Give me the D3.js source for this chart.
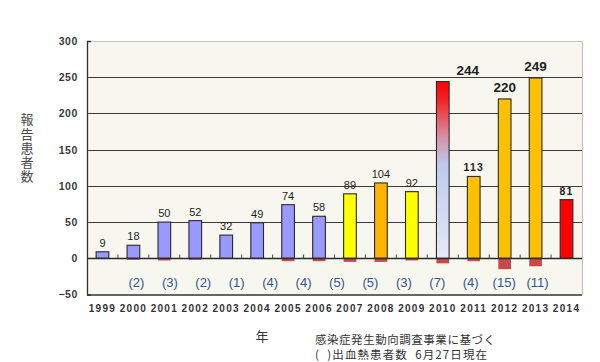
<!DOCTYPE html>
<html><head><meta charset="utf-8">
<script src="https://cdn.jsdelivr.net/npm/d3@7"></script>
<style>
html,body{margin:0;padding:0;background:#fff;}
svg{display:block;}
</style></head>
<body>
<svg id="chart" width="600" height="362"></svg>
<script>
// ---- data ----
const years = [1999,2000,2001,2002,2003,2004,2005,2006,2007,2008,2009,2010,2011,2012,2013,2014];
const reported = [9,18,50,52,32,49,74,58,89,104,92,244,113,220,249,81];
const colorGroup = ["blue","blue","blue","blue","blue","blue","blue","blue","yellow","orange","yellow","gradient","orange2","orange2","orange2","red"];
const labelStyle = ["n","n","n","n","n","n","n","n","n","n","n","big","bold","big","big","bold"];
const hemoYears = [2000,2001,2002,2003,2005,2006,2007,2008,2009,2010,2011,2012,2013];
const hemoValues = [2,3,2,1,4,4,5,5,3,7,4,15,11];
const yTicks = [-50,0,50,100,150,200,250,300];
const yTitle = "報告患者数";
const xTitle = "年";
const note1 = "感染症発生動向調査事業に基づく";
const note2 = "(\u00a0\u00a0)出血熱患者数\u00a0\u00a06月27日現在";

// ---- layout ----
const svg = d3.select("#chart");
const L = 87, R = 582, T = 41, B = 294.5;
const x = d3.scaleBand().domain(years).range([L, R]).paddingInner(0.59).paddingOuter(0.295);
const y = d3.scaleLinear().domain([-50, 300]).range([B, T]);
const step = x.step();
const bw = x.bandwidth();

const fills = {blue:"#9999ff", yellow:"#ffff00", orange:"#ffb400", orange2:"#ffc000", red:"#ff0000", gradient:"url(#g2010)"};

const defs = svg.append("defs");
const g = defs.append("linearGradient").attr("id","g2010").attr("x1",0).attr("y1",0).attr("x2",0).attr("y2",1);
[[0,"#ff0000"],[0.12,"#f22a2a"],[0.3,"#d98aa0"],[0.47,"#bccaee"],[1,"#e6eaf7"]].forEach(s=>{
  g.append("stop").attr("offset",s[0]).attr("stop-color",s[1]);
});

// plot background
svg.append("rect").attr("x",L).attr("y",T).attr("width",R-L).attr("height",B-T).attr("fill","#f7f7ef");
// top/right light borders
svg.append("path").attr("d",`M${L},${T+0.5}H${R+0.5}V${B}`).attr("fill","none").attr("stroke","#c4c4c0").attr("stroke-width",1.2);

// gridlines
svg.append("g").selectAll("line").data(yTicks.filter(t=>t>0 && t<300)).join("line")
  .attr("x1",L).attr("x2",R).attr("y1",d=>Math.round(y(d))+0.5).attr("y2",d=>Math.round(y(d))+0.5)
  .attr("stroke","#3a3a3a").attr("stroke-width",1);

// hemorrhagic red bars (below zero)
const hemo = hemoYears.map((yr,i)=>({yr, v:hemoValues[i]}));
svg.append("g").selectAll("rect").data(hemo).join("rect")
  .attr("x",d=>x(d.yr)).attr("width",bw)
  .attr("y",y(0)).attr("height",d=>y(-d.v)-y(0))
  .attr("fill","#c94848");

// main bars
const data = years.map((yr,i)=>({yr, v:reported[i], c:colorGroup[i], s:labelStyle[i]}));
svg.append("g").selectAll("rect").data(data).join("rect")
  .attr("x",d=>x(d.yr)).attr("width",bw)
  .attr("y",d=>y(d.v)).attr("height",d=>y(0)-y(d.v))
  .attr("fill",d=>fills[d.c]).attr("stroke","#2a2a2a").attr("stroke-width",1.1);

// zero line + small ticks between bars
const y0 = Math.round(y(0))+0.5;
svg.append("line").attr("x1",L).attr("x2",R).attr("y1",y0).attr("y2",y0).attr("stroke","#2a2a2a").attr("stroke-width",1.3);
svg.append("g").selectAll("line").data(years.slice(1)).join("line")
  .attr("x1",d=>x(d)-(step-bw)/2).attr("x2",d=>x(d)-(step-bw)/2)
  .attr("y1",y0).attr("y2",y0-4).attr("stroke","#444").attr("stroke-width",1);

// left + bottom axis lines
const yAxis = d3.axisLeft(y).tickValues(yTicks).tickSize(0).tickSizeOuter(-4).tickPadding(9);
const ya = svg.append("g").attr("transform",`translate(${L},0)`).call(yAxis);
ya.select(".domain").attr("stroke","#333").attr("stroke-width",1.3);
ya.selectAll("text").attr("font-family","Liberation Sans, Arial, sans-serif").attr("font-size",10.5)
  .attr("font-weight","bold").attr("fill","#3a3a3a").attr("letter-spacing",0.6);
svg.append("line").attr("x1",L).attr("x2",R).attr("y1",B+0.5).attr("y2",B+0.5).attr("stroke","#333").attr("stroke-width",1.3);

// x labels
const xAxis = d3.axisBottom(x).tickSize(0).tickPadding(10);
const xa = svg.append("g").attr("transform",`translate(0,${B})`).call(xAxis);
xa.select(".domain").remove();
xa.selectAll("text").attr("font-family","Liberation Sans, Arial, sans-serif").attr("font-size",10)
  .attr("font-weight","bold").attr("fill","#333").attr("letter-spacing",1.3);

// value labels
svg.append("g").selectAll("text").data(data).join("text")
  .attr("x",d=>x(d.yr)+bw/2 + (d.yr===2010?25:0))
  .attr("y",d=>y(d.v)-(d.s==="big"?7:5))
  .attr("text-anchor","middle")
  .attr("font-family","Liberation Sans, Arial, sans-serif")
  .attr("font-size",d=>d.s==="big"?13.5:(d.s==="bold"?10.5:11))
  .attr("font-weight",d=>d.s==="n"?"normal":"bold")
  .attr("letter-spacing",d=>d.s==="bold"?1.2:0)
  .attr("fill","#1e1e1e")
  .text(d=>d.v);

// hemorrhagic counts labels
const hx = d3.scalePoint().domain(hemoYears)
  .range([x(2000)+bw/2+3, x(2013)+bw/2+2]);
svg.append("g").selectAll("text").data(hemo).join("text")
  .attr("x",d=>hx(d.yr)).attr("y",y(0)+29)
  .attr("text-anchor","middle")
  .attr("font-family","Liberation Sans, Arial, sans-serif").attr("font-size",13)
  .attr("fill","#34548f")
  .text(d=>`(${d.v})`);

// y title (vertical)
const cjk = "Noto Sans CJK JP, sans-serif";
svg.append("text").attr("x",27).attr("y",113)
  .style("writing-mode","vertical-rl").style("text-orientation","upright")
  .attr("font-family",cjk).attr("font-size",13).attr("letter-spacing",1.2).attr("fill","#4a4a4a")
  .text(yTitle);

// x title & notes
svg.append("text").attr("x",262).attr("y",341).attr("text-anchor","middle")
  .attr("font-family",cjk).attr("font-size",13).attr("fill","#333").text(xTitle);
svg.append("text").attr("x",315).attr("y",344).attr("font-family",cjk).attr("font-size",11.5)
  .attr("fill","#333").attr("textLength",180).text(note1);
svg.append("text").attr("x",315).attr("y",358.5).attr("font-family",cjk).attr("font-size",11.5)
  .attr("fill","#333").attr("textLength",172).text(note2);
</script>
</body></html>
